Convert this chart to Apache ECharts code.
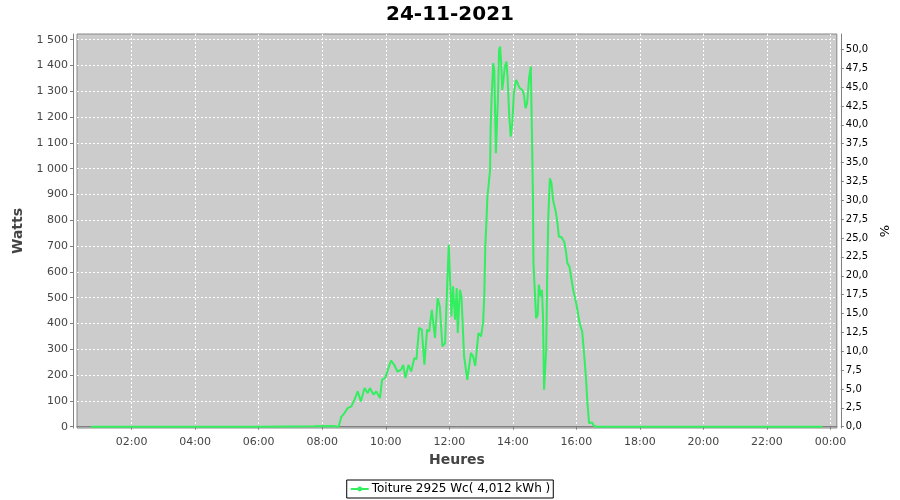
<!DOCTYPE html>
<html>
<head>
<meta charset="utf-8">
<script src="https://cdn.jsdelivr.net/npm/echarts@6/dist/echarts.min.js"></script>
<style>html,body{margin:0;padding:0;background:#fff}#c{width:900px;height:500px}</style>
</head>
<body>
<div id="c"></div>
<script>
const titleText = '24-11-2021';
const seriesName = 'Toiture 2925 Wc( 4,012 kWh )';
const peakPower = 2925;
const times = [
  '00:43','02:00','04:00','06:00','07:45','08:20','08:31',
  '08:36','08:42','08:48','08:55','09:01','09:07','09:13','09:20','09:26','09:30',
  '09:37','09:42','09:49','09:53','09:59','10:04','10:10','10:16','10:22','10:29',
  '10:33','10:37','10:43','10:48','10:54','10:58','11:03','11:08','11:13','11:18',
  '11:22','11:27','11:30','11:33','11:38','11:42','11:47','11:52','11:56','11:59',
  '12:01','12:04','12:07','12:11','12:14','12:16','12:20','12:23','12:28','12:34',
  '12:41','12:45','12:49','12:55','13:00','13:04','13:06','13:08','13:10','13:12',
  '13:14','13:17','13:18','13:20','13:23','13:25','13:28','13:30','13:32','13:34',
  '13:36','13:38','13:40','13:43','13:45','13:48','13:50','13:53','13:56','13:59',
  '14:02','14:06','14:09','14:13','14:18','14:21','14:24','14:27','14:31','14:34',
  '14:36','14:38','14:39','14:42','14:44','14:47','14:49','14:53','14:55','14:57',
  '14:59','15:01','15:03','15:05','15:07','15:10','15:13','15:16','15:21','15:24',
  '15:27','15:32','15:37','15:40','15:43','15:47','15:50','15:54','15:57','16:01',
  '16:04','16:07','16:11','16:14','16:18','16:21','16:24','16:27','16:30','16:33',
  '16:39','18:00','20:00','22:00','23:45'
];
const watts = [
  0,0,0,0,2,3,0,
  38,53,72,79,105,137,98,150,130,150,
  124,137,111,182,189,221,256,240,214,221,
  240,189,240,214,266,262,383,376,240,376,
  369,453,460,344,499,466,311,324,544,705,
  712,427,544,415,537,363,531,505,272,182,
  286,272,236,363,350,407,504,698,789,892,
  931,995,1150,1279,1409,1383,1060,1060,1279,1460,
  1473,1409,1305,1357,1396,1415,1357,1215,1124,1176,
  1293,1344,1331,1312,1305,1286,1234,1254,1357,1396,
  1150,892,634,504,420,433,550,504,530,427,
  143,136,298,595,814,963,944,879,834,795,
  737,734,717,685,634,620,582,530,504,465,
  427,395,369,298,194,91,14,11,16,3,
  0,0,0,0,0
];
const hourTicks = [2,4,6,8,10,12,14,16,18,20,22,24];
const wattTicks = [0,100,200,300,400,500,600,700,800,900,1000,1100,1200,1300,1400,1500];
const pctTicks = [0,2.5,5,7.5,10,12.5,15,17.5,20,22.5,25,27.5,30,32.5,35,37.5,40,42.5,45,47.5,50];

const toHours = s => { const p = s.split(':'); return +p[0] + (+p[1]) / 60; };
const data = times.map((t, i) => [toHours(t), watts[i]]);

const wMin = -5, wMax = 1522;
const font = 'DejaVu Sans';
const labelColor = '#444444';
const axisGray = '#808080';
const pad2 = n => (n < 10 ? '0' : '') + n;
const fmtW = v => v >= 1000 ? Math.floor(v / 1000) + ' ' + String(v % 1000).padStart(3, '0') : String(v);
const fmtP = v => v.toFixed(1).replace('.', ',');

const chart = echarts.init(document.getElementById('c'), null, {renderer: 'canvas'});
chart.setOption({
  animation: false,
  backgroundColor: '#ffffff',
  title: {
    text: titleText, left: 'center', top: 0,
    textStyle: {fontFamily: font, fontSize: 20, fontWeight: 'bold', color: '#000'}
  },
  legend: {
    bottom: 2, left: 'center',
    data: [seriesName],
    borderColor: '#000', borderWidth: 1, padding: [3, 3],
    itemWidth: 18, itemHeight: 6, itemGap: 3,
    textStyle: {fontFamily: font, fontSize: 12, color: '#000', padding: [0, 0, 0, -2]}
  },
  grid: {
    left: 77, right: 62, top: 34, bottom: 72, containLabel: false,
    show: true, backgroundColor: '#cccccc', borderColor: '#888888', borderWidth: 1
  },
  xAxis: {
    type: 'value', min: 0.28, max: 24.2, offset: 4,
    name: 'Heures', nameLocation: 'middle', nameGap: 20,
    nameTextStyle: {fontFamily: font, fontSize: 14, fontWeight: 'bold', color: labelColor},
    axisLine: {show: true, lineStyle: {color: axisGray}},
    axisTick: {show: true, length: 3, lineStyle: {color: axisGray}, customValues: hourTicks},
    axisLabel: {fontFamily: font, fontSize: 11, color: labelColor, margin: 5,
      customValues: hourTicks, formatter: v => pad2(Math.round(v) % 24) + ':00'},
    splitLine: {show: true, lineStyle: {color: '#ffffff', type: [2, 2], width: 1}}
  },
  yAxis: [{
    type: 'value', min: wMin, max: wMax, offset: 4, position: 'left',
    name: 'Watts', nameLocation: 'middle', nameGap: 45,
    nameTextStyle: {fontFamily: font, fontSize: 14, fontWeight: 'bold', color: labelColor},
    axisLine: {show: true, lineStyle: {color: axisGray}},
    axisTick: {show: true, length: 3, lineStyle: {color: axisGray}, customValues: wattTicks},
    axisLabel: {fontFamily: font, fontSize: 11, color: labelColor, margin: 5,
      customValues: wattTicks, formatter: fmtW},
    splitLine: {show: true, lineStyle: {color: '#ffffff', type: [2, 2], width: 1}}
  }, {
    type: 'value', min: wMin / peakPower * 100, max: wMax / peakPower * 100, offset: 4, position: 'right',
    name: '%', nameLocation: 'middle', nameGap: 33,
    nameTextStyle: {fontFamily: font, fontSize: 13, color: '#000'},
    axisLine: {show: true, lineStyle: {color: axisGray}},
    axisTick: {show: true, length: 3, lineStyle: {color: axisGray}, customValues: pctTicks},
    axisLabel: {fontFamily: font, fontSize: 10, color: '#000', margin: 5,
      customValues: pctTicks, formatter: fmtP},
    splitLine: {show: false}
  }],
  series: [{
    name: seriesName, type: 'line', data: data, yAxisIndex: 0,
    showSymbol: false, symbol: 'circle', symbolSize: 4,
    lineStyle: {color: '#33ee5f', width: 2},
    itemStyle: {color: '#33ee5f'}
  }]
});
</script>
</body>
</html>
